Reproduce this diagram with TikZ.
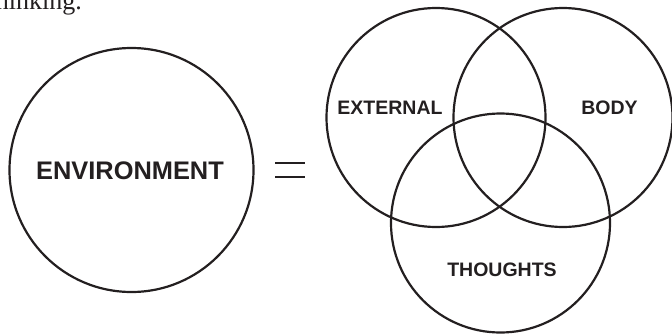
\documentclass[tikz,border=0pt]{standalone}
\usepackage{fontspec}
\setmainfont{Liberation Serif}
\newfontfamily\labelfont{Liberation Sans}
\definecolor{ink}{HTML}{231F20}
\begin{document}
\begin{tikzpicture}[x=1pt,y=-1pt,
  ring/.style={draw=ink,line width=2.2pt,circle,inner sep=0pt,minimum size=#1},
  biglabel/.style={text=ink,font=\labelfont\bfseries\fontsize{25.4}{28}\selectfont,inner sep=0pt},
  venlabel/.style={text=ink,font=\labelfont\bfseries\fontsize{19.5}{22}\selectfont,inner sep=0pt},
  eqbar/.style={draw=ink,line width=2pt}]
\useasboundingbox (0,0) rectangle (672,335);
% partial text at top left
\node[anchor=base east,inner sep=0pt,text=ink,font=\fontsize{26}{30}\selectfont] (thk) at (82,9.5) {thinking.};
% environment circle
\node[ring=244pt] (env) at (131.5,170) {};
\node[biglabel] (envt) at (130,171) {ENVIRONMENT};
% equals sign
\coordinate (e1a) at (275,163);
\coordinate (e1b) at (305,163);
\coordinate (e2a) at (275,177);
\coordinate (e2b) at (305,177);
\draw[eqbar] (e1a) -- (e1b);
\draw[eqbar] (e2a) -- (e2b);
% venn circles
\node[ring=219pt] (ext) at (436,117.5) {};
\node[ring=219pt] (bod) at (563,117.5) {};
\node[ring=219pt] (tho) at (500.5,223) {};
\node[venlabel] (extt) at (390,107.5) {EXTERNAL};
\node[venlabel] (bodt) at (609.5,107.5) {BODY};
\node[venlabel] (thot) at (502,270) {THOUGHTS};
\end{tikzpicture}
\end{document}
